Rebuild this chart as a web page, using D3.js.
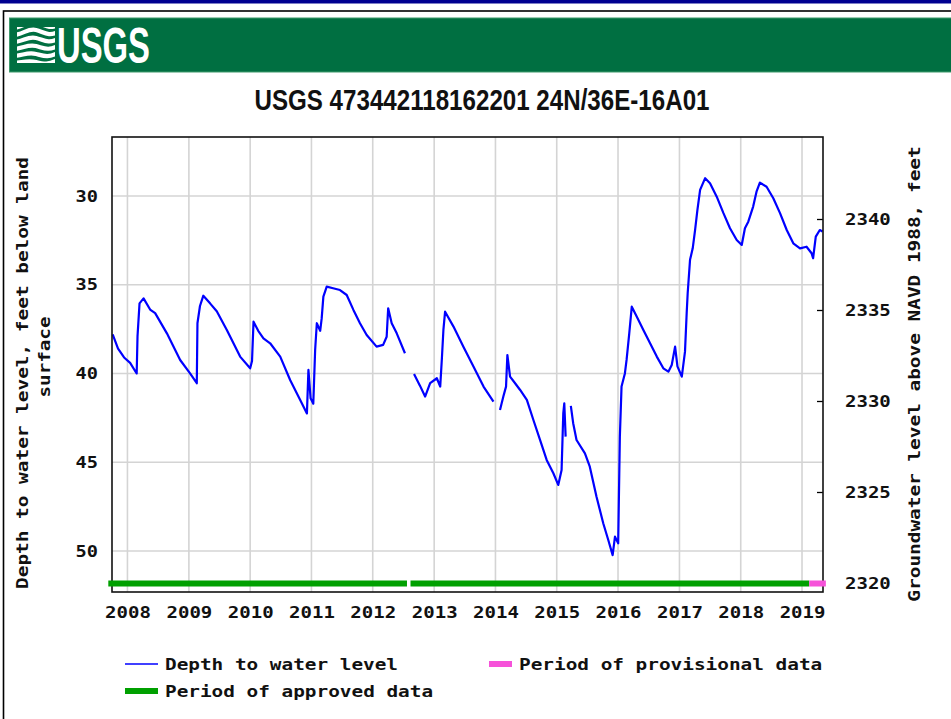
<!DOCTYPE html>
<html>
<head>
<meta charset="utf-8">
<script src="https://cdn.jsdelivr.net/npm/d3@7"></script>
<style>
  body { margin: 0; background: #fff; }
  svg { display: block; }
</style>
</head>
<body>
<div id="chart"></div>
<script>
(function() {
    // depth to water level, feet below land surface (null = gap in record)
    const dates = [
        "2007-10-05", "2007-11-06", "2007-12-12", "2008-01-17", "2008-02-25", "2008-03-01", "2008-03-13",
        "2008-04-06", "2008-05-15", "2008-06-14", "2008-08-23", "2008-11-10", "2009-01-08", "2009-02-17",
        "2009-02-21", "2009-03-08", "2009-03-28", "2009-05-07", "2009-06-16", "2009-08-15", "2009-11-02",
        "2010-01-01", "2010-01-12", "2010-01-21", "2010-02-18", "2010-03-21", "2010-04-30", "2010-06-29",
        "2010-08-27", "2010-10-26", "2010-12-05", "2010-12-14", "2010-12-27", "2011-01-12", "2011-01-23",
        "2011-02-02", "2011-02-22", "2011-03-03", "2011-03-13", "2011-04-02", "2011-05-10", "2011-06-20",
        "2011-07-30", "2011-09-08", "2011-10-17", "2011-11-26", "2012-01-24", "2012-03-03", "2012-03-24",
        "2012-04-02", "2012-04-23", "2012-05-23", "2012-07-11", "2012-08-01",
        "2012-09-03", "2012-10-09", "2012-11-08", "2012-12-08", "2013-01-17", "2013-02-06", "2013-02-16",
        "2013-02-25", "2013-03-07", "2013-04-26", "2013-06-24", "2013-08-23", "2013-10-22", "2013-12-20",
        "2014-01-10",
        "2014-01-28", "2014-02-17", "2014-03-05", "2014-03-13", "2014-03-29", "2014-04-28", "2014-05-28",
        "2014-07-07", "2014-08-15", "2014-09-24", "2014-11-02", "2014-12-12", "2015-01-10", "2015-01-30",
        "2015-02-09", "2015-02-15", "2015-02-23", "2015-03-10",
        "2015-03-26", "2015-04-09", "2015-04-29", "2015-06-18", "2015-07-17", "2015-08-26", "2015-10-05",
        "2015-11-04", "2015-11-30", "2015-12-14", "2016-01-02", "2016-01-12", "2016-01-22", "2016-02-11",
        "2016-02-21", "2016-03-08", "2016-03-23", "2016-04-22", "2016-05-31", "2016-07-10", "2016-08-19",
        "2016-09-27", "2016-10-27", "2016-11-16", "2016-12-06", "2016-12-20", "2017-01-15", "2017-02-03",
        "2017-02-13", "2017-02-19", "2017-03-05", "2017-03-21", "2017-04-04", "2017-04-18", "2017-05-04",
        "2017-06-03", "2017-07-02", "2017-08-11", "2017-09-20", "2017-10-29", "2017-12-08", "2018-01-07",
        "2018-01-26", "2018-02-15", "2018-03-16", "2018-04-05", "2018-04-25", "2018-06-04", "2018-07-14",
        "2018-08-23", "2018-10-02", "2018-11-10", "2018-12-20", "2019-01-28", "2019-02-27", "2019-03-08",
        "2019-03-24", "2019-04-17", "2019-05-03"
    ];
    const depths = [
        37.8, 38.6, 39.1, 39.4, 40.0, 37.9, 36.05,
        35.77, 36.4, 36.6, 37.74, 39.24, 39.99, 40.55,
        37.17, 36.2, 35.62, 36.05, 36.5, 37.55, 39.05,
        39.71, 39.3, 37.08, 37.6, 38.02, 38.3, 39.05,
        40.37, 41.49, 42.25, 39.8, 41.4, 41.7, 38.68,
        37.17, 37.6, 36.9, 35.67, 35.11, 35.2, 35.3,
        35.58, 36.42, 37.17, 37.83, 38.49, 38.39, 37.93,
        36.33, 37.17, 37.74, 38.86, null,
        40.03, 40.7, 41.3, 40.55, 40.27, 40.74, 39.14,
        37.55, 36.52, 37.36, 38.49, 39.61, 40.74, 41.59,
        null,
        42.06, 41.3, 40.74, 38.96, 40.18, 40.55, 40.93,
        41.49, 42.62, 43.75, 44.87, 45.62, 46.28, 45.44,
        42.25, 41.68, 43.56, null,
        41.83, 42.8, 43.75, 44.5, 45.25, 46.94, 48.44,
        49.38, 50.23, 49.19, 49.57, 43.56, 40.74, 40.0,
        39.24, 37.74, 36.24, 36.8, 37.55, 38.3, 39.05,
        39.71, 39.9, 39.52, 38.49, 39.6, 40.18, 38.77,
        36.61, 35.48, 33.6, 32.95, 31.92, 30.79, 29.66,
        29.0, 29.28, 30.04, 30.97, 31.82, 32.48, 32.76,
        31.82, 31.45, 30.6, 29.76, 29.25, 29.48, 30.13,
        30.97, 31.92, 32.67, 32.95, 32.86, 33.23, 33.51,
        32.29, 31.92, 32.0
    ];

    // data-approval periods
    const periodStart = ["2007-09-09", "2012-08-13", "2019-02-13"];
    const periodEnd   = ["2012-07-23", "2019-02-13", "2019-05-23"];
    const periodType  = ["approved", "approved", "provisional"];

    const depthTicks = [30, 35, 40, 45, 50];
    const elevTicks = [2320, 2325, 2330, 2335, 2340];

    const W = 951, H = 719;
    const plot = { left: 112, right: 823, top: 137, bottom: 592 };
    const colors = { line: "#0000ff", approved: "#00a000", provisional: "#f652d9", grid: "#d4d4d4" };
    const mono = "'DejaVu Sans Mono', 'Liberation Mono', monospace";
    const CH = 11.7; // char advance of the chart's pixel font

    const parse = d3.timeParse("%Y-%m-%d");
    const series = dates.map((d, i) => ({ date: parse(d), depth: depths[i] }));

    const svg = d3.select("#chart").append("svg")
        .attr("width", W).attr("height", H)
        .attr("viewBox", `0 0 ${W} ${H}`);

    svg.append("rect").attr("width", W).attr("height", H).attr("fill", "#fff");

    // page frame + USGS banner
    svg.append("rect").attr("x", 0).attr("y", 0).attr("width", W).attr("height", 3.5).attr("fill", "#000090");
    svg.append("rect").attr("x", 3.5).attr("y", 11).attr("width", W + 10).attr("height", H + 10)
        .attr("fill", "none").attr("stroke", "#000").attr("stroke-width", 1.6);
    svg.append("rect").attr("x", 9.5).attr("y", 18).attr("width", W).attr("height", 54)
        .attr("fill", "#006f41").attr("stroke", "#3f9a6c").attr("stroke-width", 1);

    const logo = svg.append("g");
    logo.append("clipPath").attr("id", "wclip")
        .append("rect").attr("x", 17).attr("y", 27).attr("width", 38).attr("height", 36);
    const waves = logo.append("g").attr("clip-path", "url(#wclip)");
    [28, 35, 42, 49, 56, 63].forEach((y0, i) => {
        waves.append("path")
            .attr("d", `M14,${y0} C24,${y0 - 1} 28,${y0 - 8 + i} 36,${y0 - 6 + i} S48,${y0 + 2} 58,${y0 - 3}`)
            .attr("fill", "none").attr("stroke", "#fff").attr("stroke-width", 4.2);
    });
    logo.append("text")
        .attr("x", 57).attr("y", 63)
        .attr("textLength", 93).attr("lengthAdjust", "spacingAndGlyphs")
        .style("font-family", "'Liberation Sans Narrow', 'Arial Narrow', 'Liberation Sans', sans-serif")
        .style("font-weight", "bold").style("font-size", "50px")
        .attr("fill", "#fff").text("USGS");

    // title
    svg.append("text")
        .attr("x", 482).attr("y", 110)
        .attr("text-anchor", "middle")
        .attr("textLength", 455).attr("lengthAdjust", "spacingAndGlyphs")
        .style("font-family", "'Liberation Sans Narrow', 'Arial Narrow', 'Liberation Sans', sans-serif")
        .style("font-size", "29px").style("font-weight", "bold")
        .attr("fill", "#111")
        .text("USGS 473442118162201 24N/36E-16A01");

    // scales
    const x = d3.scaleTime()
        .domain([parse("2007-10-01"), parse("2019-05-06")])
        .range([plot.left, plot.right]);
    const y = d3.scaleLinear().domain([26.68, 52.31]).range([plot.top, plot.bottom]);
    const yR = d3.scaleLinear().domain([2340, 2320]).range([219, 583]);

    const years = d3.timeYear.range(parse("2008-01-01"), parse("2019-02-01"));

    // grid
    const grid = svg.append("g").attr("stroke", colors.grid).attr("stroke-width", 1.6);
    depthTicks.forEach(v => {
        grid.append("line").attr("x1", plot.left).attr("x2", plot.right)
            .attr("y1", y(v)).attr("y2", y(v));
    });
    years.forEach(d => {
        grid.append("line").attr("x1", x(d)).attr("x2", x(d))
            .attr("y1", plot.top).attr("y2", plot.bottom);
    });

    const styleMono = (sel) => {
        sel.style("font-family", mono).style("font-size", "16px").style("font-weight", "bold")
            .attr("fill", "#111")
            .each(function() {
                const t = d3.select(this).text();
                d3.select(this).attr("textLength", t.length * CH - 1).attr("lengthAdjust", "spacingAndGlyphs");
            });
    };

    // axes
    const gL = svg.append("g").attr("transform", `translate(${plot.left},0)`)
        .call(d3.axisLeft(y).tickValues(depthTicks).tickSize(0).tickPadding(14));
    const gB = svg.append("g").attr("transform", `translate(0,${plot.bottom})`)
        .call(d3.axisBottom(x).tickValues(years).tickFormat(d3.timeFormat("%Y")).tickSize(0).tickPadding(15));
    const gR = svg.append("g").attr("transform", `translate(${plot.right},0)`)
        .call(d3.axisRight(yR).tickValues(elevTicks).tickFormat(d3.format("d")).tickSize(-6).tickPadding(22));
    [gL, gB, gR].forEach(g => {
        g.select(".domain").remove();
        g.selectAll(".tick line").attr("stroke", "#000").attr("stroke-width", 1.3);
        g.selectAll("text").call(styleMono);
    });

    // water level line
    const line = d3.line()
        .defined(d => d.depth != null)
        .x(d => x(d.date))
        .y(d => y(d.depth));
    svg.append("path")
        .datum(series)
        .attr("d", line)
        .attr("fill", "none")
        .attr("stroke", colors.line)
        .attr("stroke-width", 2.2)
        .attr("stroke-linejoin", "round");

    // plot border
    svg.append("rect")
        .attr("x", plot.left).attr("y", plot.top)
        .attr("width", plot.right - plot.left).attr("height", plot.bottom - plot.top)
        .attr("fill", "none").attr("stroke", "#111").attr("stroke-width", 1.6);

    // approval bars
    periodStart.forEach((s, i) => {
        svg.append("rect")
            .attr("x", x(parse(s)))
            .attr("y", 580.5)
            .attr("width", x(parse(periodEnd[i])) - x(parse(s)))
            .attr("height", 6)
            .attr("fill", colors[periodType[i]]);
    });

    // axis titles
    const title = (tx, ty, txt) => svg.append("text")
        .attr("transform", `translate(${tx},${ty}) rotate(-90)`)
        .attr("text-anchor", "middle")
        .attr("dy", "0.35em")
        .text(txt)
        .call(styleMono);
    title(22, 373, "Depth to water level, feet below land");
    title(44, 357, "surface");
    title(914, 374, "Groundwater level above NAVD 1988, feet");

    // legend
    const legend = [
        { label: "Depth to water level", color: colors.line, w: 1.6, x: 125, y: 664, len: 33 },
        { label: "Period of approved data", color: colors.approved, w: 6, x: 125, y: 691, len: 33 },
        { label: "Period of provisional data", color: colors.provisional, w: 6, x: 489, y: 664, len: 23 }
    ];
    legend.forEach(l => {
        svg.append("line")
            .attr("x1", l.x).attr("x2", l.x + l.len)
            .attr("y1", l.y).attr("y2", l.y)
            .attr("stroke", l.color).attr("stroke-width", l.w);
        svg.append("text")
            .attr("x", l.x + l.len + 7).attr("y", l.y).attr("dy", "0.35em")
            .text(l.label)
            .call(styleMono);
    });
})();
</script>
</body>
</html>
